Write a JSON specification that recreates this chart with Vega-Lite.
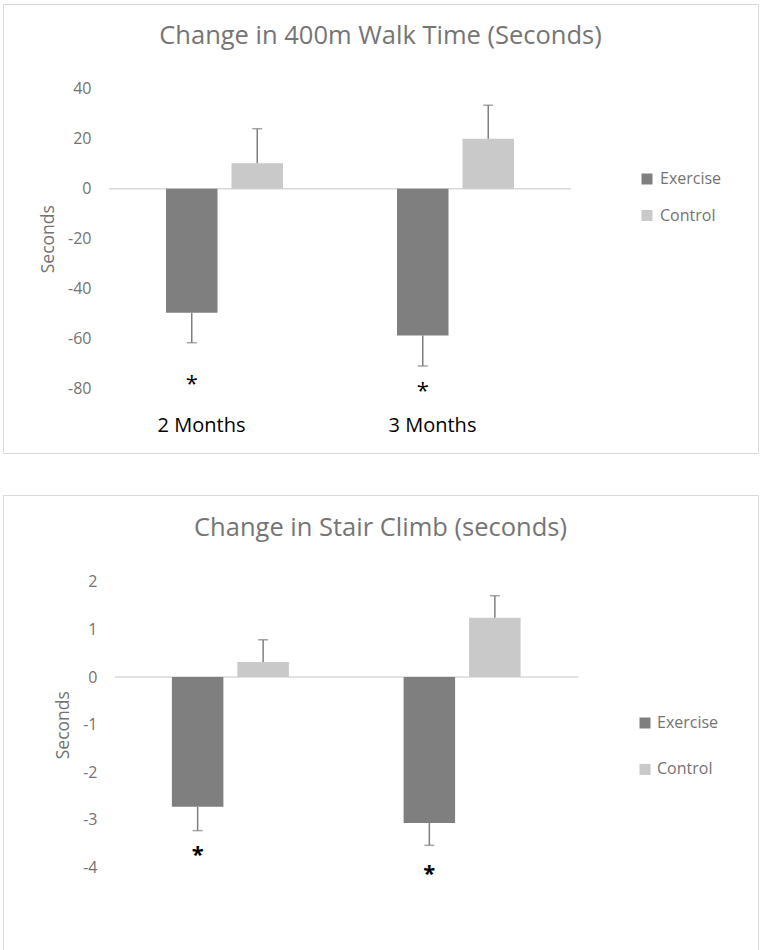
{
  "$schema": "https://vega.github.io/schema/vega-lite/v6.json",
  "padding": {"left": 2, "top": 3, "right": 0, "bottom": 0},
  "spacing": 40,
  "resolve": {"scale": {"color": "independent"}, "legend": {"color": "independent"}},
  "config": {
    "font": "Open Sans",
    "view": {"stroke": "#d9d9d9", "strokeWidth": 1},
    "title": {"fontSize": 25.5, "fontWeight": "normal", "color": "#757575", "anchor": "middle", "font": "Open Sans", "baseline": "alphabetic"},
    "axis": {"labelFont": "Open Sans", "titleFont": "Open Sans", "labelColor": "#737373", "titleColor": "#737373", "titleFontWeight": "normal", "grid": false, "domain": false, "ticks": false, "tickSize": 0},
    "legend": {"labelFont": "Open Sans"}
  },
  "datasets": {
    "walk": [
      {"month": "2 Months", "group": "Exercise", "value": -49.6, "errEnd": -61.6},
      {"month": "2 Months", "group": "Control", "value": 10.2, "errEnd": 24},
      {"month": "3 Months", "group": "Exercise", "value": -58.7, "errEnd": -70.9},
      {"month": "3 Months", "group": "Control", "value": 20, "errEnd": 33.4}
    ],
    "walkStars": [
      {"month": "2 Months", "group": "Exercise", "y": -76, "label": "*"},
      {"month": "3 Months", "group": "Exercise", "y": -78.8, "label": "*"}
    ],
    "stair": [
      {"month": "2 Months", "group": "Exercise", "value": -2.73, "errEnd": -3.23},
      {"month": "2 Months", "group": "Control", "value": 0.315, "errEnd": 0.785},
      {"month": "3 Months", "group": "Exercise", "value": -3.07, "errEnd": -3.54},
      {"month": "3 Months", "group": "Control", "value": 1.247, "errEnd": 1.71}
    ],
    "stairStars": [
      {"month": "2 Months", "group": "Exercise", "y": -3.63, "label": "*"},
      {"month": "3 Months", "group": "Exercise", "y": -4.04, "label": "*"}
    ],
    "zeroLine": [{"start": "2 Months", "end": "3 Months", "v": 0}]
  },
  "vconcat": [
    {
      "width": 755,
      "height": 449,
      "title": {"text": "Change in 400m Walk Time (Seconds)", "offset": -45},
      "layer": [
        {
          "data": {"name": "zeroLine"},
          "mark": {"type": "rule", "color": "#d9d9d9", "strokeWidth": 1.5},
          "encoding": {
            "x": {
              "field": "start", "type": "nominal", "bandPosition": -0.487,
              "axis": {"orient": "bottom", "offset": -22, "title": null, "labelPadding": 0, "labelBaseline": "alphabetic", "labelOffset": -23, "labelFontSize": 20, "labelColor": "#000000", "labelAngle": 0}
            },
            "x2": {"field": "end", "bandPosition": 1.487},
            "y": {"field": "v", "type": "quantitative"}
          }
        },
        {
          "data": {"name": "walk"},
          "mark": {"type": "bar"},
          "encoding": {
            "x": {
              "field": "month", "type": "nominal",
              "scale": {"domain": ["2 Months", "3 Months"], "paddingInner": 0.4935, "paddingOuter": 0.881, "align": 0.4005},
              "axis": {"orient": "bottom", "offset": -22, "title": null, "labelPadding": 0, "labelBaseline": "alphabetic", "labelOffset": -23, "labelFontSize": 20, "labelColor": "#000000", "labelAngle": 0}
            },
            "xOffset": {"field": "group", "type": "nominal", "scale": {"domain": ["Exercise", "Control"], "paddingInner": 0.2137, "paddingOuter": 0}},
            "y": {
              "field": "value", "type": "quantitative",
              "scale": {"domain": [-105.72, 73.88], "nice": false, "zero": false},
              "axis": {"values": [-80, -60, -40, -20, 0, 20, 40], "offset": -88, "labelPadding": 0, "labelFontSize": 16, "labelExpr": "'' + datum.value", "title": "Seconds", "titleFontSize": 17.5, "titlePadding": 10.5, "titleY": 234.7}
            },
            "color": {
              "field": "group", "type": "nominal",
              "scale": {"domain": ["Exercise", "Control"], "range": ["#7f7f7f", "#c9c9c9"]},
              "legend": {"orient": "none", "legendX": 636, "legendY": 167, "title": null, "symbolType": "square", "symbolSize": 121, "symbolStrokeWidth": 0, "labelFontSize": 16, "labelColor": "#737373", "labelOffset": 5, "rowPadding": 20.5, "padding": 0}
            }
          }
        },
        {
          "data": {"name": "walk"},
          "mark": {"type": "rule", "color": "#7f7f7f", "strokeWidth": 1.5},
          "encoding": {
            "x": {"field": "month", "type": "nominal"},
            "xOffset": {"field": "group", "type": "nominal", "scale": {"domain": ["Exercise", "Control"]}},
            "y": {"field": "value", "type": "quantitative"},
            "y2": {"field": "errEnd"}
          }
        },
        {
          "data": {"name": "walk"},
          "mark": {"type": "tick", "color": "#7f7f7f", "size": 10, "thickness": 1.5, "orient": "horizontal"},
          "encoding": {
            "x": {"field": "month", "type": "nominal"},
            "xOffset": {"field": "group", "type": "nominal", "scale": {"domain": ["Exercise", "Control"]}},
            "y": {"field": "errEnd", "type": "quantitative"}
          }
        },
        {
          "data": {"name": "walkStars"},
          "mark": {"type": "text", "fontSize": 22, "color": "#000000", "baseline": "middle", "dy": 5, "font": "Open Sans"},
          "encoding": {
            "x": {"field": "month", "type": "nominal"},
            "xOffset": {"field": "group", "type": "nominal", "scale": {"domain": ["Exercise", "Control"]}},
            "y": {"field": "y", "type": "quantitative"},
            "text": {"field": "label"}
          }
        }
      ]
    },
    {
      "width": 755,
      "height": 455,
      "title": {"text": "Change in Stair Climb (seconds)", "offset": -46.5},
      "layer": [
        {
          "data": {"name": "zeroLine"},
          "mark": {"type": "rule", "color": "#d9d9d9", "strokeWidth": 1.5},
          "encoding": {
            "x": {"field": "start", "type": "nominal", "bandPosition": -0.483, "axis": null},
            "x2": {"field": "end", "bandPosition": 1.483},
            "y": {"field": "v", "type": "quantitative"}
          }
        },
        {
          "data": {"name": "stair"},
          "mark": {"type": "bar"},
          "encoding": {
            "x": {
              "field": "month", "type": "nominal",
              "scale": {"domain": ["2 Months", "3 Months"], "paddingInner": 0.4916, "paddingOuter": 0.875, "align": 0.4165},
              "axis": null
            },
            "xOffset": {"field": "group", "type": "nominal", "scale": {"domain": ["Exercise", "Control"], "paddingInner": 0.2165, "paddingOuter": 0}},
            "y": {
              "field": "value", "type": "quantitative",
              "scale": {"domain": [-5.741, 3.828], "nice": false, "zero": false},
              "axis": {"values": [-4, -3, -2, -1, 0, 1, 2], "offset": -94, "labelPadding": 0, "labelFontSize": 16, "labelExpr": "'' + datum.value", "title": "Seconds", "titleFontSize": 17.5, "titlePadding": 10.5, "titleY": 229.7}
            },
            "color": {
              "field": "group", "type": "nominal",
              "scale": {"domain": ["Exercise", "Control"], "range": ["#7f7f7f", "#c9c9c9"]},
              "legend": {"orient": "none", "legendX": 634, "legendY": 220, "title": null, "symbolType": "square", "symbolSize": 121, "symbolStrokeWidth": 0, "labelFontSize": 16, "labelColor": "#737373", "labelOffset": 4, "rowPadding": 30.4, "padding": 0}
            }
          }
        },
        {
          "data": {"name": "stair"},
          "mark": {"type": "rule", "color": "#7f7f7f", "strokeWidth": 1.5},
          "encoding": {
            "x": {"field": "month", "type": "nominal"},
            "xOffset": {"field": "group", "type": "nominal", "scale": {"domain": ["Exercise", "Control"]}},
            "y": {"field": "value", "type": "quantitative"},
            "y2": {"field": "errEnd"}
          }
        },
        {
          "data": {"name": "stair"},
          "mark": {"type": "tick", "color": "#7f7f7f", "size": 10, "thickness": 1.5, "orient": "horizontal"},
          "encoding": {
            "x": {"field": "month", "type": "nominal"},
            "xOffset": {"field": "group", "type": "nominal", "scale": {"domain": ["Exercise", "Control"]}},
            "y": {"field": "errEnd", "type": "quantitative"}
          }
        },
        {
          "data": {"name": "stairStars"},
          "mark": {"type": "text", "fontSize": 22, "fontWeight": "bold", "color": "#000000", "baseline": "middle", "dy": 5, "font": "Open Sans"},
          "encoding": {
            "x": {"field": "month", "type": "nominal"},
            "xOffset": {"field": "group", "type": "nominal", "scale": {"domain": ["Exercise", "Control"]}},
            "y": {"field": "y", "type": "quantitative"},
            "text": {"field": "label"}
          }
        }
      ]
    }
  ]
}
